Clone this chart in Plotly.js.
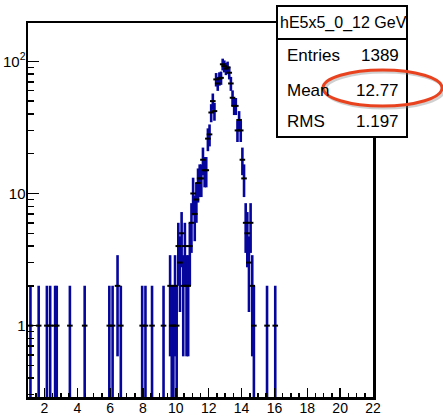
<!DOCTYPE html>
<html><head><meta charset="utf-8">
<script src="https://cdn.plot.ly/plotly-3.0.1.min.js"></script>
<style>html,body{margin:0;padding:0;background:#fff}#chart{width:443px;height:416px}</style>
</head><body><div id="chart"></div>
<script>
// Histogram bin centres (GeV) and counts
const binCenters = [
  1.15, 1.65, 2.15, 2.35, 2.65, 2.75, 3.55, 4.45, 5.95, 6.15, 6.45, 6.65, 7.95, 8.15, 8.55, 9.25,
  9.65, 9.75, 9.85, 9.95, 10.05, 10.15, 10.25, 10.35, 10.45, 10.55, 10.65, 10.75, 10.85,
  10.95, 11.05, 11.15, 11.25, 11.35, 11.45, 11.55, 11.65, 11.75, 11.85, 11.95,
  12.05, 12.15, 12.25, 12.35, 12.45, 12.55, 12.65, 12.75, 12.85, 12.95,
  13.05, 13.15, 13.25, 13.35, 13.45, 13.55, 13.65, 13.75, 13.85, 13.95,
  14.05, 14.15, 14.25, 14.35, 14.45, 14.55, 14.65, 14.75, 15.55, 16.05
];
const binCounts = [
  1, 1, 1, 1, 1, 1, 1, 1, 1, 1, 2, 1, 1, 1, 1, 1,
  2, 1, 1, 2, 1, 4, 3, 5, 2, 4, 2, 2, 4,
  6, 10, 7, 9, 12, 13, 13, 18, 15, 15, 26,
  28, 41, 50, 42, 73, 68, 74, 75, 95, 92,
  88, 90, 82, 68, 53, 46, 46, 30, 36, 30,
  18, 13, 6, 5, 3, 6, 2, 1, 1, 1
];
const xTickVals = [2, 4, 6, 8, 10, 12, 14, 16, 18, 20, 22];
const yTickVals = [1, 10, 100];
const yTickText = ['1', '10', '10<sup>2</sup>'];
const statsTitle = 'hE5x5_0_12 GeV';
const statsLabels = ['Entries', 'Mean', 'RMS'];
const statsValues = ['1389', '12.77', '1.197'];

const errUp = binCounts.map(v => Math.sqrt(v));
const errDown = binCounts.map(v => Math.min(Math.sqrt(v), v - 0.001));

const W = 443, H = 416;
const mL = 28, mR = 70, mT = 23, mB = 19;
const pw = W - mL - mR, ph = H - mT - mB;
const px = x => (x - mL) / pw;
const py = y => (H - mB - y) / ph;

const FONT = 'Liberation Sans, Arial, Helvetica, sans-serif';
const blue = '#06069c';

const trace = {
  type: 'scatter', mode: 'markers',
  x: binCenters, y: binCounts,
  marker: {symbol: 'line-ew', size: 4, color: '#000', line: {color: '#000', width: 2}},
  error_y: {type: 'data', symmetric: false, array: errUp, arrayminus: errDown,
            color: blue, thickness: 2.6, width: 0},
  hoverinfo: 'skip', showlegend: false
};

const box = {x0: px(277), x1: px(407), y0: py(137), y1: py(6)};
const rowY = [55, 90, 122];
const annotations = [
  {xref: 'paper', yref: 'paper', x: px(343), y: py(23), xanchor: 'center', yanchor: 'middle',
   text: statsTitle, showarrow: false, font: {family: FONT, size: 16, color: '#000'}}
];
statsLabels.forEach((t, i) => {
  annotations.push({xref: 'paper', yref: 'paper', x: px(285), y: py(rowY[i]), xanchor: 'left', yanchor: 'middle',
    text: t, showarrow: false, font: {family: FONT, size: 17, color: '#000'}});
  annotations.push({xref: 'paper', yref: 'paper', x: px(401), y: py(rowY[i]), xanchor: 'right', yanchor: 'middle',
    text: statsValues[i], showarrow: false, font: {family: FONT, size: 17, color: '#000'}});
});

const shapes = [
  {type: 'rect', xref: 'paper', yref: 'paper', x0: box.x0, x1: box.x1, y0: box.y0, y1: box.y1,
   line: {color: '#000', width: 2}, fillcolor: '#fff', layer: 'above'},
  {type: 'line', xref: 'paper', yref: 'paper', x0: box.x0, x1: box.x1, y0: py(39), y1: py(39),
   line: {color: '#000', width: 2}, layer: 'above'},
  {type: 'circle', xref: 'paper', yref: 'paper', x0: px(325), x1: px(444), y0: py(108), y1: py(72),
   line: {color: 'rgba(120,120,120,0.35)', width: 3}, layer: 'above'},
  {type: 'circle', xref: 'paper', yref: 'paper', x0: px(323), x1: px(442), y0: py(106), y1: py(70),
   line: {color: '#e8421e', width: 3}, layer: 'above'}
];

const layout = {
  width: W, height: H,
  margin: {l: mL, r: mR, t: mT, b: mB, pad: 0},
  paper_bgcolor: '#fff', plot_bgcolor: '#fff',
  font: {family: FONT, size: 15, color: '#000'},
  xaxis: {range: [1, 22], tickmode: 'array', tickvals: xTickVals, ticks: 'inside', ticklen: 9, tickwidth: 1.5,
          tickcolor: '#000', showgrid: false, zeroline: false, showline: true, linecolor: '#000', linewidth: 2.5,
          mirror: true, ticklabelstandoff: -3, tickfont: {family: FONT, size: 14, color: '#000'},
          minor: {dtick: 0.5, ticks: 'inside', ticklen: 4.5, tickwidth: 1.5, tickcolor: '#000', showgrid: false}},
  yaxis: {type: 'log', range: [-0.54, 2.29], tickmode: 'array', tickvals: yTickVals, ticktext: yTickText,
          ticks: 'inside', ticklen: 11, tickwidth: 1.5, tickcolor: '#000', showgrid: false, zeroline: false,
          showline: true, linecolor: '#000', linewidth: 2.5, mirror: true, ticklabelstandoff: -3,
          tickfont: {family: FONT, size: 15, color: '#000'},
          minor: {tickmode: 'linear', dtick: 'D1', ticks: 'inside', ticklen: 6, tickwidth: 1.5, tickcolor: '#000', showgrid: false}},
  shapes: shapes,
  annotations: annotations,
  showlegend: false
};

Plotly.newPlot('chart', [trace], layout, {displayModeBar: false, staticPlot: true});
</script>
</body></html>
